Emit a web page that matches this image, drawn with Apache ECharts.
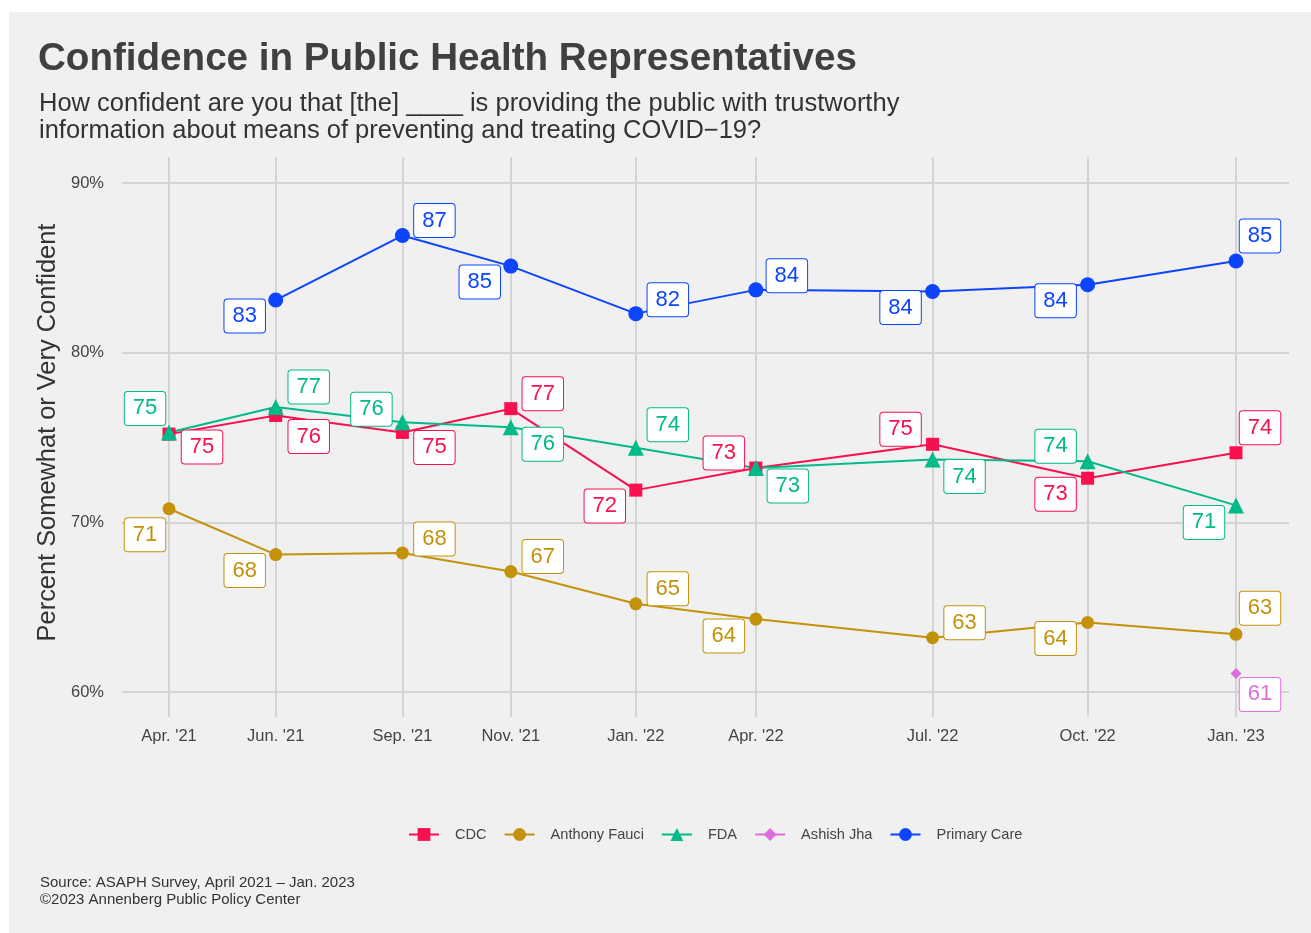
<!DOCTYPE html>
<html>
<head>
<meta charset="utf-8">
<script src="https://cdn.jsdelivr.net/npm/echarts@6/dist/echarts.min.js"></script>
<style>
  html, body { margin: 0; background: #fff; }
  #bg { position: absolute; left: 9px; top: 12px; width: 1302px; height: 921px; background: #f0f0f0; }
  #main { position: absolute; left: 0; top: 0; width: 1311px; height: 933px; }
</style>
</head>
<body>
<div id="bg"></div>
<div id="main"></div>
<script>
// survey waves (approximate field dates) and their tick labels
const surveyDates = ['2021-04-15', '2021-06-18', '2021-09-02', '2021-11-06', '2022-01-20',
                     '2022-04-02', '2022-07-17', '2022-10-18', '2023-01-15'];
const tickLabels = ["Apr. '21", "Jun. '21", "Sep. '21", "Nov. '21", "Jan. '22",
                    "Apr. '22", "Jul. '22", "Oct. '22", "Jan. '23"];
const yTicks = [60, 70, 80, 90];

// percent somewhat / very confident
const cdc         = [75.2, 76.3, 75.3, 76.7, 71.9, 73.2, 74.6, 72.6, 74.1];
const fauci       = [70.8, 68.1, 68.2, 67.1, 65.2, 64.3, 63.2, 64.1, 63.4];
const fda         = [75.3, 76.8, 75.9, 75.6, 74.4, 73.2, 73.7, 73.6, 71.0];
const jha         = [null, null, null, null, null, null, null, null, 61.1];
const primaryCare = [null, 83.1, 86.9, 85.1, 82.3, 83.7, 83.6, 84.0, 85.4];

// where the repelled labels sit, relative to their point
const cdcOffsets     = [[33,13],[33,21],[32,15],[32,-15],[-31,16],[-32,-15],[-32,-15],[-32,16],[24,-25]];
const fauciOffsets   = [[-24,26],[-31,16],[32,-14],[32,-15],[32,-15],[-32,17],[32,-15],[-32,16],[24,-26]];
const fdaOffsets     = [[-24,-24],[33,-20],[-31,-13],[32,17],[32,-23],[32,18],[32,17],[-32,-15],[-32,17]];
const jhaOffsets     = [null,null,null,null,null,null,null,null,[24,21]];
const primaryOffsets = [null,[-31,16],[32,-15],[-31,16],[32,-14],[31,-14],[-32,16],[-32,16],[24,-25]];

const DAY = 86400000;
const t0 = Date.UTC(2021, 3, 15);
// x positions = days since the first wave
const days = surveyDates.map(d => {
    const p = d.split('-').map(Number);
    return Math.round((Date.UTC(p[0], p[1] - 1, p[2]) - t0) / DAY);
});
const FONT = '"Liberation Sans", Arial, Helvetica, sans-serif';

function makeSeries(name, values, offsets, color, symbol, size) {
    let data = [];
    values.forEach((v, i) => {
        if (v == null) return;
        data.push({
            value: [days[i], v],
            label: { offset: offsets[i] }
        });
    });
    return {
        name: name,
        type: 'line',
        data: data,
        symbol: symbol,
        symbolSize: size,
        color: color,
        lineStyle: { width: 2, color: color },
        itemStyle: { color: color },
        label: {
            show: true,
            position: 'inside',
            align: 'center',
            verticalAlign: 'middle',
            formatter: p => Math.round(p.value[1]),
            color: color,
            fontFamily: FONT,
            fontSize: 22,
            lineHeight: 22,
            backgroundColor: '#fff',
            borderColor: color,
            borderWidth: 1,
            borderRadius: 3,
            padding: [6, 8, 5, 8]
        },
        emphasis: { disabled: true },
        z: 3
    };
}

const chart = echarts.init(document.getElementById('main'));
chart.setOption({
    backgroundColor: 'transparent',
    animation: false,
    textStyle: { fontFamily: FONT },
    title: [
        {
            text: 'Confidence in Public Health Representatives',
            left: 38, top: 40, padding: 0,
            textStyle: { fontFamily: FONT, fontSize: 38.6, fontWeight: 'bold', color: '#404040' }
        },
        {
            text: 'How confident are you that [the] ____ is providing the public with trustworthy\ninformation about means of preventing and treating COVID\u221219?',
            left: 39, top: 90, padding: 0,
            textStyle: { fontFamily: FONT, fontSize: 25.5, lineHeight: 27, fontWeight: 'normal', color: '#333' }
        },
        {
            text: 'Source: ASAPH Survey, April 2021 \u2013 Jan. 2023\n\u00a92023 Annenberg Public Policy Center',
            left: 40, top: 874, padding: 0,
            textStyle: { fontFamily: FONT, fontSize: 15, lineHeight: 17, fontWeight: 'normal', color: '#333' }
        }
    ],
    legend: {
        top: 822,
        left: 403,
        itemWidth: 30,
        itemHeight: 16,
        itemGap: 17,
        textStyle: { fontFamily: FONT, fontSize: 14.6, color: '#444', padding: [0, 0, 0, 11] },
        data: ['CDC', 'Anthony Fauci', 'FDA', 'Ashish Jha', 'Primary Care']
    },
    grid: { left: 122, right: 22, top: 157, bottom: 225 },
    xAxis: {
        type: 'value',
        min: -28.2,
        max: days[days.length - 1] + 31.8,
        axisLine: { show: false },
        axisTick: {
            show: true, length: 9, customValues: days,
            lineStyle: { color: '#d4d4d4', width: 2 }
        },
        splitLine: { show: true, lineStyle: { color: '#d4d4d4', width: 2 } },
        axisLabel: {
            customValues: days,
            margin: 20,
            fontFamily: FONT, fontSize: 16.5, color: '#444',
            formatter: v => {
                let best = 0;
                days.forEach((d, i) => { if (Math.abs(d - v) < Math.abs(days[best] - v)) best = i; });
                return tickLabels[best];
            }
        }
    },
    yAxis: {
        type: 'value',
        min: 59.06,
        max: 91.53,
        name: 'Percent Somewhat or Very Confident',
        nameLocation: 'middle',
        nameGap: 59,
        nameTextStyle: { fontFamily: FONT, fontSize: 25.4, color: '#333' },
        axisLine: { show: false },
        axisTick: {
            show: true, length: 5, customValues: yTicks,
            lineStyle: { color: '#d4d4d4', width: 2 }
        },
        splitLine: { show: true, lineStyle: { color: '#d4d4d4', width: 2 } },
        axisLabel: {
            customValues: yTicks,
            margin: 18,
            fontFamily: FONT, fontSize: 16.5, color: '#444',
            formatter: v => v + '%'
        }
    },
    series: [
        makeSeries('CDC', cdc, cdcOffsets, '#f8104f', 'rect', 13),
        makeSeries('Anthony Fauci', fauci, fauciOffsets, '#c3920a', 'circle', 13),
        makeSeries('FDA', fda, fdaOffsets, '#00ba88', 'triangle', 16),
        makeSeries('Ashish Jha', jha, jhaOffsets, '#dd6fdd', 'diamond', 11),
        makeSeries('Primary Care', primaryCare, primaryOffsets, '#0c44ff', 'circle', 15)
    ]
});
</script>
</body>
</html>
